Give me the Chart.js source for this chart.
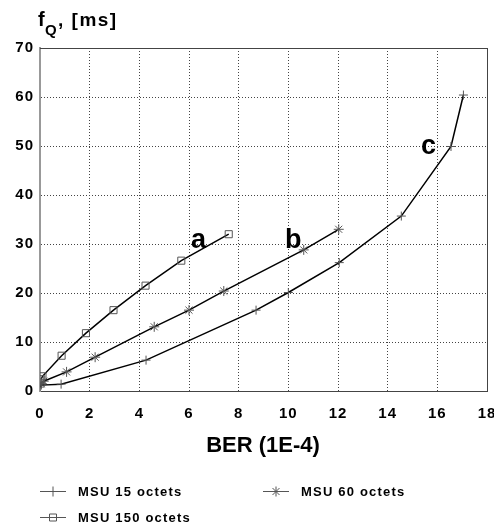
<!DOCTYPE html>
<html>
<head>
<meta charset="utf-8">
<script src="https://cdn.jsdelivr.net/npm/chart.js@4/dist/chart.umd.min.js"></script>
<style>
  html, body { margin: 0; padding: 0; background: #fff; }
  #wrap { width: 494px; height: 527px; position: relative; }
</style>
</head>
<body>
<div id="wrap"><canvas id="c"></canvas></div>
<script>
// BER (1E-4) vs f_Q [ms]
const ber15 = [0, 0.05, 0.85, 4.27, 8.7, 10.0, 12.05, 14.55, 16.55, 17.05];
const fq15 = [0.8, 1.2, 1.4, 6.3, 16.5, 20.1, 26.2, 35.7, 49.9, 60.4];

const ber60 = [0.05, 0.15, 1.07, 2.22, 4.6, 6.0, 7.4, 10.62, 12.03];
const fq60 = [1.5, 2.0, 3.9, 6.9, 13.1, 16.5, 20.4, 28.8, 33.0];

const ber150 = [0.05, 0.1, 0.87, 1.85, 2.96, 4.25, 5.69, 7.6];
const fq150 = [2.4, 3.0, 7.2, 11.8, 16.5, 21.5, 26.6, 32.0];

const xTicks = [0, 2, 4, 6, 8, 10, 12, 14, 16, 18];
const yTicks = [0, 10, 20, 30, 40, 50, 60, 70];

const curveTags = [
    { text: 'a', x: 191, y: 248 },
    { text: 'b', x: 285, y: 248 },
    { text: 'c', x: 421, y: 154 }
];

const FONT = '"Liberation Sans", Arial, sans-serif';
const MARK = '#555';

const pts = (xs, ys) => xs.map((x, i) => ({ x, y: ys[i] }));

function series(label, xs, ys, style, radius) {
    return {
        label,
        data: pts(xs, ys),
        showLine: true,
        borderColor: '#000',
        borderWidth: 1.5,
        pointStyle: style,
        pointRadius: radius,
        pointBorderColor: MARK,
        pointBorderWidth: 1,
        pointBackgroundColor: 'rgba(0,0,0,0)',
        tension: 0
    };
}

function marker(ctx, style, x, y) {
    ctx.beginPath();
    if (style === 'cross' || style === 'star') {
        ctx.moveTo(x - 5, y); ctx.lineTo(x + 5, y);
        ctx.moveTo(x, y - 5); ctx.lineTo(x, y + 5);
    }
    if (style === 'star') {
        ctx.moveTo(x - 3.5, y - 3.5); ctx.lineTo(x + 3.5, y + 3.5);
        ctx.moveTo(x - 3.5, y + 3.5); ctx.lineTo(x + 3.5, y - 3.5);
    }
    if (style === 'rect') {
        ctx.rect(x - 3.5, y - 3.5, 7, 7);
    }
    ctx.stroke();
}

const decor = {
    id: 'decor',
    beforeDraw(chart) {
        // wider tick digits, like the scanned figure
        chart.ctx.letterSpacing = '1px';
    },
    afterDraw(chart) {
        const { ctx, chartArea: a } = chart;
        ctx.save();

        // frame top / right
        ctx.strokeStyle = '#444';
        ctx.lineWidth = 1;
        ctx.beginPath();
        ctx.moveTo(a.left, a.top + 0.5);
        ctx.lineTo(a.right + 0.5, a.top + 0.5);
        ctx.lineTo(a.right + 0.5, a.bottom);
        ctx.stroke();

        ctx.fillStyle = '#000';
        ctx.textBaseline = 'alphabetic';
        ctx.textAlign = 'left';

        // y title f_Q, [ms]
        ctx.letterSpacing = '0px';
        ctx.font = 'bold 20px ' + FONT;
        ctx.fillText('f', 38, 26);
        ctx.font = 'bold 15px ' + FONT;
        ctx.fillText('Q', 45, 35);
        ctx.font = 'bold 19px ' + FONT;
        ctx.letterSpacing = '1.5px';
        ctx.fillText(', [ms]', 58, 26);

        // x title
        ctx.letterSpacing = '0px';
        ctx.font = 'bold 22px ' + FONT;
        ctx.textAlign = 'center';
        ctx.fillText('BER (1E-4)', 263, 452);

        // curve tags
        ctx.font = 'bold 27px ' + FONT;
        ctx.textAlign = 'left';
        curveTags.forEach(t => ctx.fillText(t.text, t.x, t.y));

        // legend
        const items = [
            { label: 'MSU 15 octets', style: 'cross', x: 40, y: 491 },
            { label: 'MSU 60 octets', style: 'star', x: 263, y: 491 },
            { label: 'MSU 150 octets', style: 'rect', x: 40, y: 517 }
        ];
        ctx.font = 'bold 13px ' + FONT;
        ctx.letterSpacing = '1.2px';
        ctx.textBaseline = 'middle';
        items.forEach(it => {
            ctx.strokeStyle = MARK;
            ctx.lineWidth = 1;
            ctx.beginPath();
            ctx.moveTo(it.x, it.y + 0.5);
            ctx.lineTo(it.x + 26, it.y + 0.5);
            ctx.stroke();
            marker(ctx, it.style, it.x + 13, it.y + 0.5);
            ctx.fillStyle = '#000';
            ctx.fillText(it.label, it.x + 38, it.y + 1);
        });

        ctx.restore();
        ctx.letterSpacing = '0px';
    }
};

new Chart(document.getElementById('c'), {
    type: 'scatter',
    data: {
        datasets: [
            series('MSU 15 octets', ber15, fq15, 'cross', 4.5),
            series('MSU 60 octets', ber60, fq60, 'star', 5),
            series('MSU 150 octets', ber150, fq150, 'rect', 5)
        ]
    },
    options: {
        responsive: true,
        maintainAspectRatio: false,
        animation: false,
        layout: { padding: { left: 0, right: 7, top: 48, bottom: 106 } },
        plugins: {
            legend: { display: false },
            tooltip: { enabled: false }
        },
        scales: {
            x: {
                type: 'linear',
                min: 0,
                max: 18,
                afterBuildTicks: s => { s.ticks = xTicks.map(v => ({ value: v })); },
                afterFit: s => { s.height = 30; s.paddingLeft = 0; s.paddingRight = 0; },
                grid: { color: '#444', lineWidth: 1, drawTicks: false },
                border: { color: '#444', width: 1, dash: [1, 2] },
                ticks: { color: '#000', padding: 14, font: { family: FONT, size: 15, weight: 'bold' }, maxRotation: 0 }
            },
            y: {
                type: 'linear',
                min: 0,
                max: 70,
                afterBuildTicks: s => { s.ticks = yTicks.map(v => ({ value: v })); },
                afterFit: s => { s.width = 40; },
                grid: { color: '#444', lineWidth: 1, drawTicks: false },
                border: { color: '#999', width: 2, dash: [1, 2] },
                ticks: { color: '#000', padding: 6, font: { family: FONT, size: 15, weight: 'bold' } }
            }
        }
    },
    plugins: [decor]
});
</script>
</body>
</html>
